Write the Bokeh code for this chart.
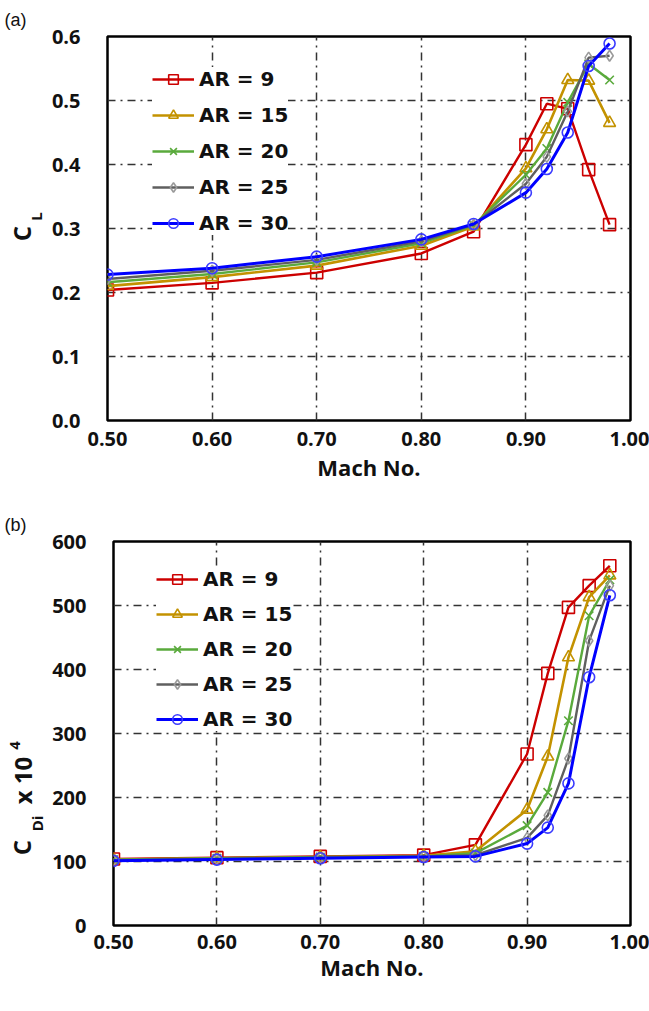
import math
from bokeh.plotting import figure
from bokeh.layouts import column, row
from bokeh.models import FixedTicker, PrintfTickFormatter, Label, Legend, LegendItem, Range1d
from bokeh.embed import file_html
from bokeh.resources import INLINE

# ---------------- data ----------------
mach = [0.50, 0.60, 0.70, 0.80, 0.85, 0.90, 0.92, 0.94, 0.96, 0.98]
ar_labels = ["AR = 9", "AR = 15", "AR = 20", "AR = 25", "AR = 30"]

cl_ar9 = [0.204, 0.215, 0.231, 0.261, 0.295, 0.431, 0.495, 0.487, 0.392, 0.306]
cl_ar15 = [0.210, 0.224, 0.242, 0.273, 0.303, 0.394, 0.455, 0.532, 0.531, 0.465]
cl_ar20 = [0.216, 0.229, 0.247, 0.277, 0.305, 0.384, 0.425, 0.497, 0.557, 0.532]
cl_ar25 = [0.221, 0.234, 0.251, 0.280, 0.306, 0.370, 0.412, 0.483, 0.567, 0.570]
cl_ar30 = [0.228, 0.238, 0.256, 0.283, 0.307, 0.356, 0.393, 0.450, 0.554, 0.589]

cdi_ar9 = [104, 106, 108, 110, 126, 268, 394, 497, 531, 562]
cdi_ar15 = [103, 105, 107, 109, 116, 181, 264, 419, 513, 547]
cdi_ar20 = [103, 105, 107, 108, 113, 156, 208, 320, 484, 540]
cdi_ar25 = [102, 104, 106, 108, 110, 137, 172, 261, 445, 531]
cdi_ar30 = [101, 103, 105, 107, 108, 128, 153, 222, 388, 516]

x_ticks = [0.5, 0.6, 0.7, 0.8, 0.9, 1.0]
cl_ticks = [0.0, 0.1, 0.2, 0.3, 0.4, 0.5, 0.6]
cdi_ticks = [0, 100, 200, 300, 400, 500, 600]

# ---------------- styles ----------------
styles = [
    dict(line="#CC0000", mk="#CC0000", marker="square", size=12, lw=2.4),
    dict(line="#C39200", mk="#C39200", marker="triangle", size=12, lw=2.6),
    dict(line="#5AAA3C", mk="#5AAA3C", marker="x", size=12, lw=2.4),
    dict(line="#5F5F5F", mk="#9A9A9A", marker="diamond", size=11, lw=2.4),
    dict(line="#0000FF", mk="#3B3BFF", marker="circle", size=11, lw=3.0),
]

TICK_FONT = "Open Sans"
LEG_FONT = "DejaVu Sans"
STRIP_W = 46
TOTAL_W = 649


def make_fig(series, yticks, yfmt, ymax, height, left, bottom_border, leg_loc, leg_spacing,
             xl_standoff, al_standoff):
    p = figure(width=TOTAL_W - STRIP_W, height=height, output_backend="svg", toolbar_location=None,
               x_range=Range1d(0.5, 1.0), y_range=Range1d(0, ymax),
               min_border_left=left - STRIP_W, min_border_right=TOTAL_W - 630, min_border_top=35,
               min_border_bottom=bottom_border)
    p.background_fill_color = "white"
    p.border_fill_color = "white"
    p.outline_line_color = "black"
    p.outline_line_width = 2.5

    for ax in (p.xaxis[0], p.yaxis[0]):
        ax.axis_line_color = None
        ax.major_tick_line_color = None
        ax.minor_tick_line_color = None
        ax.major_tick_out = 0
        ax.major_tick_in = 0
        ax.minor_tick_out = 0
        ax.minor_tick_in = 0
        ax.major_label_text_font = TICK_FONT
        ax.major_label_text_font_style = "bold"
        ax.major_label_text_font_size = "20px"
        ax.major_label_text_color = "#111111"
    p.xaxis.ticker = FixedTicker(ticks=x_ticks)
    p.yaxis.ticker = FixedTicker(ticks=yticks)
    p.xaxis.formatter = PrintfTickFormatter(format="%.2f")
    p.yaxis.formatter = PrintfTickFormatter(format=yfmt)
    p.yaxis.major_label_standoff = 27
    p.xaxis.major_label_standoff = xl_standoff
    p.xaxis.axis_label = "Mach No."
    p.xaxis.axis_label_text_font = TICK_FONT
    p.xaxis.axis_label_text_font_style = "bold"
    p.xaxis.axis_label_text_font_size = "22px"
    p.xaxis.axis_label_text_color = "#111111"
    p.xaxis.axis_label_standoff = al_standoff

    for g in (p.xgrid[0], p.ygrid[0]):
        g.grid_line_color = "#333333"
        g.grid_line_width = 1.5
        g.grid_line_dash = "8 5 2 5"
    p.xgrid.ticker = FixedTicker(ticks=x_ticks)
    p.ygrid.ticker = FixedTicker(ticks=yticks)

    items = []
    for lab, ys, st in zip(ar_labels, series, styles):
        r1 = p.line(mach, ys, line_color=st["line"], line_width=st["lw"])
        r2 = p.scatter(mach, ys, marker=st["marker"], size=st["size"], line_color=st["mk"],
                       fill_color=None, line_width=1.6)
        items.append(LegendItem(label=lab, renderers=[r1, r2]))

    leg = Legend(items=items, location=leg_loc)
    leg.label_text_font = LEG_FONT
    leg.label_text_font_style = "bold"
    leg.label_text_font_size = "20px"
    leg.label_text_color = "#111111"
    leg.glyph_width = 42
    leg.glyph_height = 24
    leg.label_height = 24
    leg.label_standoff = 5
    leg.spacing = leg_spacing
    leg.padding = 6
    leg.margin = 0
    leg.border_line_color = None
    leg.background_fill_color = "white"
    leg.background_fill_alpha = 1.0
    p.add_layout(leg, "center")
    return p


def make_strip(height, tag_text):
    s = figure(width=STRIP_W, height=height, output_backend="svg", toolbar_location=None,
               x_range=Range1d(0, 1), y_range=Range1d(0, 1), min_border=0,
               x_axis_location=None, y_axis_location=None, title=tag_text)
    s.grid.visible = False
    s.outline_line_color = None
    s.background_fill_color = "white"
    s.border_fill_color = "white"
    s.title.align = "left"
    s.title.offset = 4
    s.title.standoff = 14
    s.title.text_font = "Liberation Sans"
    s.title.text_font_style = "normal"
    s.title.text_font_size = "18px"
    s.title.text_color = "#111111"
    return s


p1 = make_fig([cl_ar9, cl_ar15, cl_ar20, cl_ar25, cl_ar30], cl_ticks, "%.1f", 0.6,
              505, 107, 85, (45, 185), 12, 11, 3)
p2 = make_fig([cdi_ar9, cdi_ar15, cdi_ar20, cdi_ar25, cdi_ar30], cdi_ticks, "%d", 600,
              506, 113, 86, (43, 194), 11, 9, 0)

s1 = make_strip(505, "(a)")
s2 = make_strip(506, "(b)")

big = dict(text_font=TICK_FONT, text_font_style="bold", text_font_size="24px", text_color="#111111")
small = dict(text_font=TICK_FONT, text_font_style="bold", text_font_size="15px", text_color="#111111")
rot = math.pi / 2
scr = dict(x_units="screen", y_units="screen")
mid = dict(text_align="center", text_baseline="middle")

# strip frames are aligned with the plot frames (bottom edge = y 0)
# panel (a): C_L
s1.add_layout(Label(x=21, y=187, text="C", angle=rot, **big, **mid, **scr))
s1.add_layout(Label(x=35, y=204, text="L", angle=rot, **small, **mid, **scr))

# panel (b): C_Di x 10^4
s2.add_layout(Label(x=21, y=78, text="C", angle=rot, **big, **mid, **scr))
s2.add_layout(Label(x=36, y=102, text="Di", angle=rot, **small, **mid, **scr))
s2.add_layout(Label(x=22, y=145, text="x 10", angle=rot, **big, **mid, **scr))
s2.add_layout(Label(x=14, y=180, text="4", angle=rot, **small, **mid, **scr))

layout = column(row(s1, p1, spacing=0), row(s2, p2, spacing=0), spacing=0)
open("out.html", "w").write(file_html(layout, INLINE))
